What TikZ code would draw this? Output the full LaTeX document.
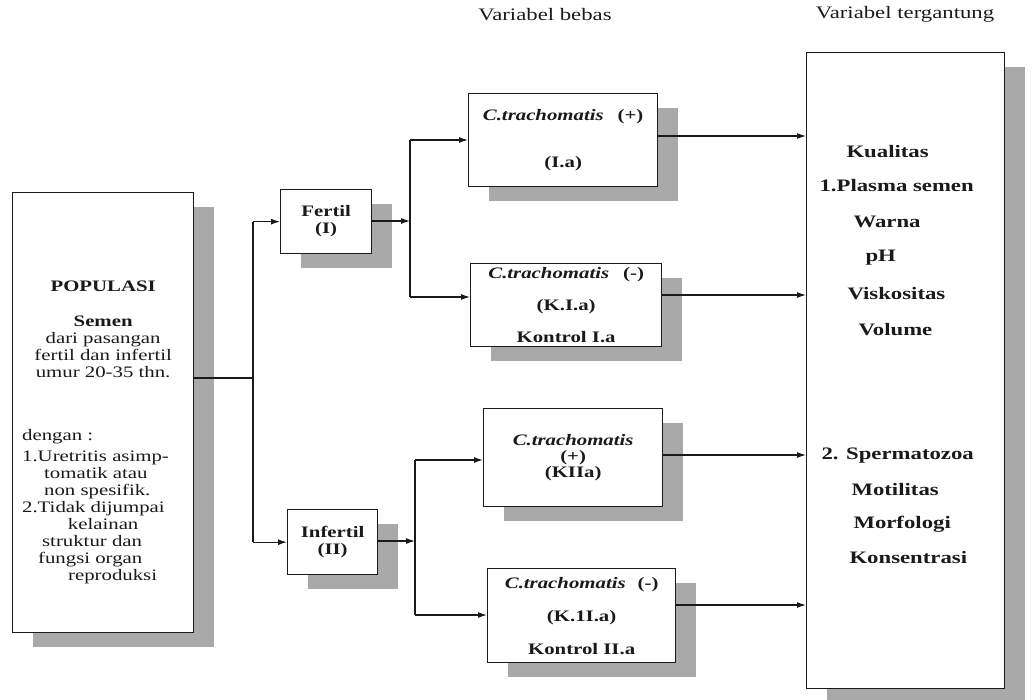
\documentclass[tikz,border=0pt]{standalone}
\usepackage{fontspec}
\setmainfont{Liberation Serif}[FakeStretch=1.3]
\usetikzlibrary{arrows.meta, positioning, shadows}
\definecolor{ink}{HTML}{1A1A1A}
\definecolor{shade}{HTML}{A9A9A9}
\tikzset{
  heading/.style={font=\fontsize{17.5}{19}\selectfont, text=ink},
  body/.style={font=\fontsize{16}{17}\selectfont, text=ink},
  boldbody/.style={font=\bfseries\fontsize{16}{17}\selectfont, text=ink},
  deplbl/.style={font=\bfseries\fontsize{17.5}{19}\selectfont, text=ink, anchor=west},
  box/.style={draw=ink, line width=1.3pt, fill=white, anchor=north west, inner sep=0pt, align=center,
    drop shadow={shadow xshift=20pt, shadow yshift=-14pt, fill=shade, opacity=1}},
  link/.style={draw=ink, line width=1.2pt},
  arr/.style={link, -{Latex[length=9pt,width=6pt]}}
}
\newcommand{\ctr}[1]{\makebox[170pt]{#1}}
\newcommand{\ind}[2]{\makebox[170pt][l]{\hspace*{#1}#2}}
\newcommand{\ctname}{\textbf{\textit{C.trachomatis}}}

\begin{document}
\begin{tikzpicture}[x=1pt,y=-1pt]
\useasboundingbox (0,0) rectangle (1032,700);

% headings
\node[heading] (hbebas) at (545,15) {Variabel bebas};
\node[heading] (htergantung) at (905,14) {Variabel tergantung};

% population
\node[box, body, minimum width=181pt, minimum height=440pt, align=left] (pop) at (12,192) {%
\mbox{}\\[34pt]
\ctr{\textbf{POPULASI}}\\[18pt]
\ctr{\textbf{Semen}}\\
\ctr{dari pasangan}\\
\ctr{fertil dan infertil}\\
\ctr{umur 20-35 thn.}\\[46pt]
\ind{4pt}{dengan :}\\[4pt]
\ind{4pt}{1.Uretritis asimp-}\\
\ind{26pt}{tomatik atau}\\
\ind{26pt}{non spesifik.}\\
\ind{4pt}{2.Tidak dijumpai}\\
\ctr{kelainan}\\
\ind{24pt}{struktur dan}\\
\ind{20pt}{fungsi organ}\\
\ind{50pt}{reproduksi}};

% groups
\node[box, boldbody, minimum width=91pt, minimum height=64pt] (fertil) at (280,189) {Fertil\\(I)};
\node[box, boldbody, minimum width=90pt, minimum height=65pt] (infertil) at (287,509) {Infertil\\(II)};

% independent variable
\node[box, boldbody, minimum width=189pt, minimum height=93pt] (ctA) at (468,93)
{\ctname\hspace{14pt}(+)\\[30pt](I.a)};
\node[box, boldbody, minimum width=191pt, minimum height=83pt] (ctB) at (470,263)
{\ctname\hspace{14pt}(-)\\[15pt](K.I.a)\\[15pt]Kontrol I.a};
\node[box, boldbody, minimum width=179pt, minimum height=98pt] (ctC) at (483,408)
{\ctname\\[-1pt](+)\\[-1pt](KIIa)};
\node[box, boldbody, minimum width=188pt, minimum height=94pt] (ctD) at (487,568)
{\ctname\hspace{12pt}(-)\\[16pt](K.1I.a)\\[16pt]Kontrol II.a};

% dependent variable
\node[box, minimum width=198pt, minimum height=636pt] (dep) at (806,52) {};
\node[deplbl] (kual) at (843,152) {Kualitas};
\node[deplbl] (plasma) at (816,186) {1.Plasma semen};
\node[deplbl] (warna) at (850,222) {Warna};
\node[deplbl] (ph) at (862,258) {pH};
\node[deplbl] (visko) at (844,294) {Viskositas};
\node[deplbl] (volume) at (855,330) {Volume};
\node[deplbl] (sperma) at (818,456) {2. Spermatozoa};
\node[deplbl] (motil) at (848,490) {Motilitas};
\node[deplbl] (morfo) at (850,524) {Morfologi};
\node[deplbl] (konsen) at (846,558) {Konsentrasi};

% connectors
\coordinate (busP) at (253,378);
\draw[link] (pop.east |- busP) -- (busP);
\draw[link] (busP |- fertil.west) -- (busP |- infertil.west);
\draw[arr] (busP |- fertil.west) -- (fertil.west);
\draw[arr] (busP |- infertil.west) -- (infertil.west);

\coordinate (busF) at (410,221);
\coordinate (inA) at (410,140);
\coordinate (inB) at (410,297);
\draw[arr] (fertil.east |- busF) -- (busF);
\draw[link] (inA) -- (inB);
\draw[arr] (inA) -- (inA -| ctA.west);
\draw[arr] (inB) -- (inB -| ctB.west);

\coordinate (busI) at (415,541);
\coordinate (inC) at (415,460);
\coordinate (inD) at (415,615);
\draw[arr] (infertil.east |- busI) -- (busI);
\draw[link] (inC) -- (inD);
\draw[arr] (inC) -- (inC -| ctC.west);
\draw[arr] (inD) -- (inD -| ctD.west);

\coordinate (outA) at (806,136);
\coordinate (outB) at (806,295);
\coordinate (outC) at (806,455);
\coordinate (outD) at (806,605);
\draw[arr] (outA -| ctA.east) -- (outA -| dep.west);
\draw[arr] (outB -| ctB.east) -- (outB -| dep.west);
\draw[arr] (outC -| ctC.east) -- (outC -| dep.west);
\draw[arr] (outD -| ctD.east) -- (outD -| dep.west);

\end{tikzpicture}
\end{document}
